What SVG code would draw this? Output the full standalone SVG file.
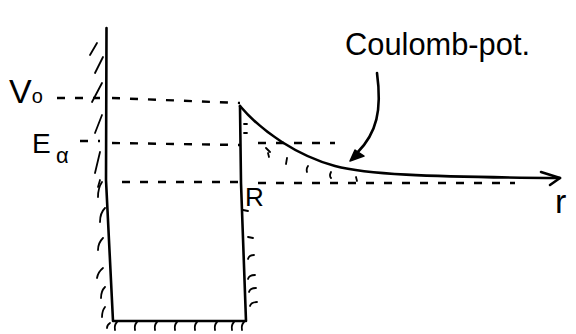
<svg xmlns="http://www.w3.org/2000/svg" width="576" height="334" viewBox="0 0 576 334">
<style>
.solid{fill:none;stroke:#000;stroke-width:2.6;stroke-linecap:round;stroke-linejoin:round}
.dash{fill:none;stroke:#000;stroke-width:2.4;stroke-dasharray:8 10}
.hatch{fill:none;stroke:#000;stroke-width:1.8;stroke-linecap:round}
.lbl{font-family:"Liberation Sans","DejaVu Sans",sans-serif;fill:#000}
</style>
<rect width="576" height="334" fill="#fff"/>
<g id="well">
<path class="solid" d="M106.5,28 L106,180 L113,321 L246,321 L241,183 L240,106"/>
</g>
<g id="coulomb-curve">
<path class="solid" d="M240,106 C262,132 298,156 335,166 C365,174 420,177 560,178"/>
<path class="solid" d="M541,172 L560,178 L550,185"/>
</g>
<g id="connectors">
<path class="dash" d="M57,98 L100,98"/>
<path class="dash" d="M112,98 L240,103"/>
<path class="dash" d="M80,141 L100,141"/>
<path class="dash" d="M112,143 L240,145"/>
<path class="dash" d="M258,143 L335,143"/>
<path class="dash" d="M122,182 L240,182"/>
<path class="dash" d="M258,183 L515,183"/>
<path class="solid" d="M377,73 C382,110 377,133 357,153"/>
<path d="M350,161 L355,150 L364,156 Z" fill="#000" stroke="#000" stroke-width="1.5" stroke-linejoin="round"/>
</g>
<g id="hatching">
<path class="hatch" d="M97,43 L90,55 M103,57 L95,73 M102,83 L92,102 M102,115 L95,133 M100,152 L95,173 M100,180 L98,187"/>
<path class="hatch" d="M102,182 Q98,188 98,197 M105,208 Q100,213 100,222 M103,238 Q98,243 98,250 M103,268 Q98,272 97,278 M105,287 Q101,291 101,298 M105,307 Q102,311 102,317 M110,323 Q107,325 107,328"/>
<path class="hatch" d="M243,210 L248,211 M248,237 L253,238 M248,259 Q249,255 254,255 M248,279 Q249,275 255,275 M249,292 Q250,288 256,288 M250,306 Q251,302 257,302"/>
<path class="hatch" d="M117,322 Q114,325 115,330 M137,322 Q134,325 135,330 M157,322 Q154,325 155,330 M177,322 Q174,325 175,330 M197,322 Q194,325 195,330 M217,322 Q214,325 215,330 M234,322 Q231,325 232,330 M244,322 Q241,325 242,330"/>
<path class="hatch" d="M244,124 L247,124 M244,133 L247,133 M266,148 L270,152 M268,153 L269,157 M287,158 L286,164 M308,166 Q306,169 307,172 M331,172 Q329,176 331,178 M356,177 L357,181"/>
</g>
<g id="labels">
<text class="lbl" x="9" y="103" font-size="34">V<tspan font-size="20">o</tspan></text>
<text class="lbl" x="32" y="153" font-size="28">E</text>
<text class="lbl" x="56" y="163" font-size="22">α</text>
<text class="lbl" x="245" y="206" font-size="26">R</text>
<text class="lbl" x="555" y="213" font-size="34">r</text>
<text class="lbl" x="345" y="55" font-size="32" textLength="185" lengthAdjust="spacingAndGlyphs">Coulomb-pot.</text>
</g>
</svg>
